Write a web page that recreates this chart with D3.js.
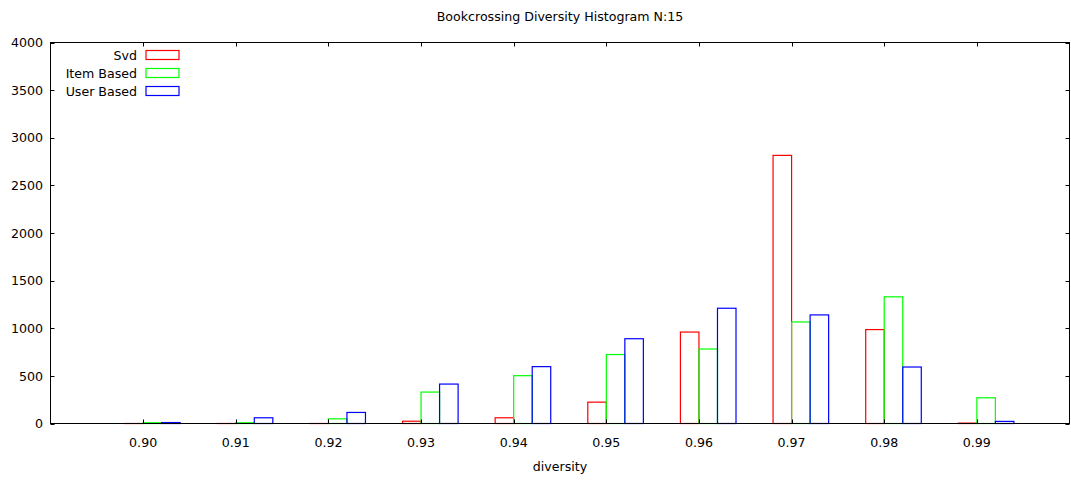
<!DOCTYPE html>
<html>
<head>
<meta charset="utf-8">
<script src="https://cdn.jsdelivr.net/npm/d3@7"></script>
<style>
  body { margin: 0; background: #fff; }
  svg { display: block; font-family: "DejaVu Sans", sans-serif; }
</style>
</head>
<body>
<svg id="chart" width="1071" height="483"></svg>
<script>
const bins = [0.90, 0.91, 0.92, 0.93, 0.94, 0.95, 0.96, 0.97, 0.98, 0.99];
const svdValues = [0, 0, 0, 24, 60, 224, 960, 2815, 986, 4];
const itemValues = [8, 8, 49, 330, 502, 724, 782, 1066, 1330, 270];
const userValues = [10, 60, 116, 414, 597, 890, 1210, 1140, 593, 22];
const seriesNames = ["Svd", "Item Based", "User Based"];
const seriesColors = ["#ff0000", "#00ff00", "#0000ff"];
const yTicks = [0, 500, 1000, 1500, 2000, 2500, 3000, 3500, 4000];
const titleText = "Bookcrossing Diversity Histogram N:15";
const xLabelText = "diversity";

(function () {
const svg = d3.select("#chart");
const pLeft = 50.5, pRight = 1069.5, pTop = 42.5, pBottom = 423.5;
const fs = 12.6;
const x = d3.scaleLinear().domain([0.89, 1.0]).range([pLeft, pRight]);
const y = d3.scaleLinear().domain([0, 4000]).range([pBottom, pTop]);
const binW = 0.002;

const allSeries = [svdValues, itemValues, userValues];

// bars
allSeries.forEach((vals, si) => {
  svg.append("g").selectAll("rect")
    .data(bins.map((b, i) => ({ b, v: vals[i] })))
    .join("rect")
    .attr("x", d => x(d.b - binW + si * binW))
    .attr("width", d => x(d.b + si * binW) - x(d.b - binW + si * binW))
    .attr("y", d => y(d.v))
    .attr("height", d => Math.max(0.01, y(0) - y(d.v)))
    .attr("fill", "none")
    .attr("stroke", seriesColors[si])
    .attr("stroke-width", 1.2);
});

// frame
svg.append("rect")
  .attr("x", pLeft).attr("y", pTop)
  .attr("width", pRight - pLeft).attr("height", pBottom - pTop)
  .attr("fill", "none").attr("stroke", "#000").attr("stroke-width", 1);

const tl = 4;
// x ticks
const xg = svg.append("g");
bins.forEach(b => {
  const px = Math.round(x(b)) + 0.5;
  xg.append("line").attr("x1", px).attr("x2", px).attr("y1", pBottom).attr("y2", pBottom - tl).attr("stroke", "#000");
  xg.append("line").attr("x1", px).attr("x2", px).attr("y1", pTop).attr("y2", pTop + tl).attr("stroke", "#000");
  xg.append("text").attr("x", x(b)).attr("y", 446.5)
    .attr("text-anchor", "middle").attr("font-size", fs).attr("fill", "#000")
    .text(d3.format(".2f")(b));
});
// y ticks
const yg = svg.append("g");
yTicks.forEach(t => {
  const py = Math.round(y(t)) + 0.5;
  yg.append("line").attr("x1", pLeft).attr("x2", pLeft + tl).attr("y1", py).attr("y2", py).attr("stroke", "#000");
  yg.append("line").attr("x1", pRight).attr("x2", pRight - tl).attr("y1", py).attr("y2", py).attr("stroke", "#000");
  yg.append("text").attr("x", 43).attr("y", y(t) + 4.7)
    .attr("text-anchor", "end").attr("font-size", fs).attr("fill", "#000")
    .text(t);
});

// title and axis label
svg.append("text").attr("x", 560).attr("y", 21).attr("text-anchor", "middle")
  .attr("font-size", fs).text(titleText);
svg.append("text").attr("x", 560).attr("y", 471).attr("text-anchor", "middle")
  .attr("font-size", fs).text(xLabelText);

// legend
const lg = svg.append("g");
seriesNames.forEach((n, i) => {
  const cy = 55 + i * 18;
  lg.append("text").attr("x", 137).attr("y", cy + 4.7).attr("text-anchor", "end")
    .attr("font-size", fs).text(n);
  lg.append("rect").attr("x", 146).attr("y", cy - 4.5).attr("width", 33).attr("height", 9)
    .attr("fill", "none").attr("stroke", seriesColors[i]).attr("stroke-width", 1.2);
});
})();
</script>
</body>
</html>
